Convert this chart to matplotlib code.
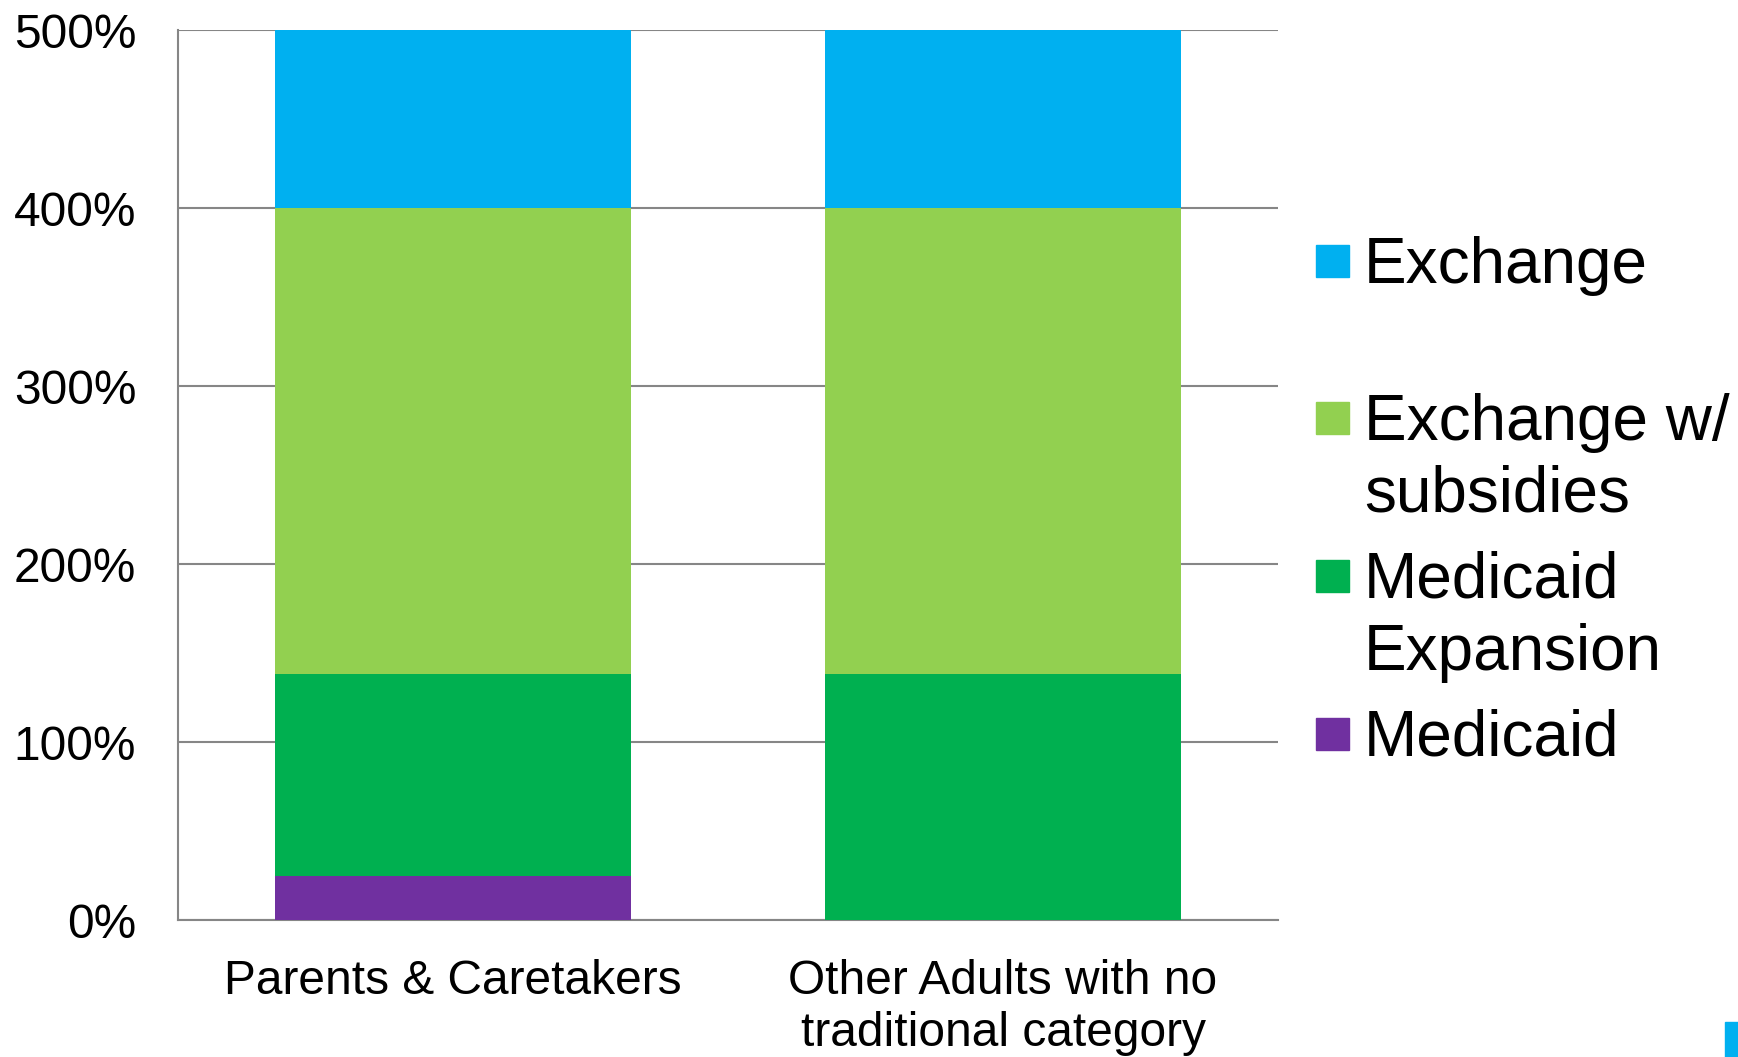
import matplotlib.pyplot as plt
from matplotlib.patches import Rectangle
import numpy as np

plt.rcParams['font.family'] = ['Liberation Sans', 'DejaVu Sans']

# Income bands as % of the federal poverty level, stacked from the bottom up
categories = ['Parents & Caretakers', 'Other Adults with no\ntraditional category']
series_names = ['Medicaid', 'Medicaid Expansion', 'Exchange w/ subsidies', 'Exchange']
legend_lines = [['Medicaid'], ['Medicaid', 'Expansion'], ['Exchange w/', 'subsidies'], ['Exchange']]
medicaid = [25, 0]
medicaid_expansion = [113, 138]
exchange_subsidies = [262, 262]
exchange = [100, 100]
colors = ['#7030A0', '#00B050', '#92D050', '#00B0F0']
y_ticks = [0, 100, 200, 300, 400, 500]

W, H = 1738, 1057
fig = plt.figure(figsize=(W / 100, H / 100), dpi=100)
ax = fig.add_axes([178 / W, 1 - 920 / H, 1100 / W, 890 / H])

x = np.arange(len(categories))
bottom = np.zeros(len(categories))
for vals, color in zip([medicaid, medicaid_expansion, exchange_subsidies, exchange], colors):
    ax.bar(x, vals, width=0.647, bottom=bottom, color=color, zorder=3)
    bottom += np.array(vals)

ax.set_xlim(-0.5, 1.5)
ax.set_ylim(0, 500)
ax.set_yticks(y_ticks)
ax.set_yticklabels([f'{v}%' for v in y_ticks], fontsize=34.5)
ax.set_xticks(x)
ax.set_xticklabels(categories, fontsize=34.5, linespacing=1.2)
ax.tick_params(axis='both', length=0)
ax.tick_params(axis='y', pad=30)
ax.tick_params(axis='x', pad=28)
ax.yaxis.grid(True, color='#868686', linewidth=1.5, zorder=0)
ax.set_axisbelow(True)
for side in ['top', 'right']:
    ax.spines[side].set_visible(False)
for side in ['left', 'bottom']:
    ax.spines[side].set_color('#868686')
    ax.spines[side].set_linewidth(1.5)

# Legend drawn by hand: top entry first, one two-line slot per entry
slot_tops = [245, 402, 560, 718]
line_step = 72
for lines, color, top in zip(legend_lines[::-1], colors[::-1], slot_tops):
    fig.patches.append(Rectangle((1316 / W, 1 - (top + 32) / H), 33 / W, 32 / H,
                                 transform=fig.transFigure, color=color))
    for i, line in enumerate(lines):
        fig.text(1364 / W, 1 - (top + 38 + i * line_step) / H, line, fontsize=46,
                 ha='left', va='baseline')

# small accent block at the lower right edge
fig.patches.append(Rectangle((1725 / W, 0), 13 / W, 35 / H,
                             transform=fig.transFigure, color='#00B0F0'))

fig.savefig('out.png', dpi=100)
